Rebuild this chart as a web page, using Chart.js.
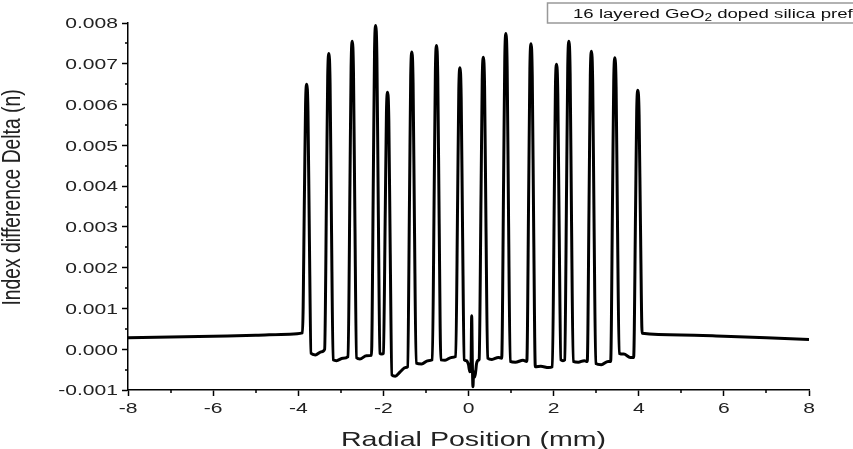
<!DOCTYPE html>
<html lang="en">
<head>
  <meta charset="UTF-8">
  <title>Index difference profile</title>
  <script src="https://cdn.jsdelivr.net/npm/chart.js"></script>
  <style>
    body { margin: 0; background: #fff; }
    canvas { display: block; }
  </style>
</head>
<body>
  <canvas id="myChart" width="853" height="449"></canvas>
  <script>
    // radial position (mm)
    const radialPos = [
      -8, -7, -6, -5, -4.2,
      -3.90, -3.855, -3.828, -3.80, -3.772, -3.74, -3.70,
      -3.60, -3.45,
      -3.38, -3.335, -3.308, -3.28, -3.252, -3.22, -3.18,
      -3.10, -2.95,
      -2.83, -2.785, -2.758, -2.73, -2.702, -2.67, -2.63,
      -2.55, -2.40,
      -2.28, -2.235, -2.208, -2.18, -2.152, -2.12, -2.08,
      -2.04,
      -2.00, -1.955, -1.928, -1.90, -1.872, -1.84, -1.80,
      -1.72, -1.60, -1.48,
      -1.43, -1.385, -1.358, -1.33, -1.302, -1.27, -1.23,
      -1.10, -0.95,
      -0.85, -0.805, -0.778, -0.75, -0.722, -0.69, -0.65,
      -0.55, -0.40,
      -0.30, -0.255, -0.228, -0.20, -0.172, -0.14, -0.10,
      -0.05, 0.00, 0.03, 0.06, 0.075, 0.09, 0.105, 0.12, 0.15, 0.19, 0.23,
      0.25, 0.295, 0.322, 0.35, 0.378, 0.41, 0.45,
      0.55, 0.70,
      0.78, 0.825, 0.852, 0.88, 0.908, 0.94, 0.98,
      1.10, 1.28,
      1.37, 1.415, 1.442, 1.47, 1.498, 1.53, 1.57,
      1.70, 1.88,
      1.97, 2.015, 2.042, 2.07, 2.098, 2.13, 2.17,
      2.22,
      2.26, 2.305, 2.332, 2.36, 2.388, 2.42, 2.46,
      2.58, 2.72,
      2.79, 2.835, 2.862, 2.89, 2.918, 2.95, 2.99,
      3.12, 3.28,
      3.34, 3.385, 3.412, 3.44, 3.468, 3.50, 3.54,
      3.65, 3.80,
      3.88, 3.925, 3.952, 3.98, 4.008, 4.04, 4.08,
      5, 6, 7, 8
    ];

    // index difference delta (n)
    const indexDelta = [
      0.00028, 0.00030, 0.00032, 0.00034, 0.00037,
      0.00040, 0.00376, 0.00601, 0.00650, 0.00584, 0.00287, -0.00010,
      -0.00014, -0.00006,
      0.00000, 0.00399, 0.00667, 0.00725, 0.00650, 0.00312, -0.00026,
      -0.00028, -0.00022,
      -0.00018, 0.00407, 0.00693, 0.00755, 0.00677, 0.00328, -0.00021,
      -0.00024, -0.00016,
      -0.00015, 0.00430, 0.00729, 0.00794, 0.00714, 0.00352, -0.00010,
      -0.00012,
      -0.00010, 0.00342, 0.00579, 0.00630, 0.00561, 0.00249, -0.00063,
      -0.00066, -0.00055, -0.00045,
      -0.00043, 0.00382, 0.00667, 0.00729, 0.00653, 0.00309, -0.00034,
      -0.00036, -0.00028,
      -0.00026, 0.00398, 0.00683, 0.00745, 0.00668, 0.00321, -0.00026,
      -0.00027, -0.00020,
      -0.00018, 0.00371, 0.00633, 0.00690, 0.00618, 0.00296, -0.00026,
      -0.00028, -0.00038, -0.00055, -0.00035, 0.00082, -0.00030, -0.00092, -0.00055, -0.00068, -0.00035, -0.00027,
      -0.00025, 0.00383, 0.00657, 0.00716, 0.00642, 0.00310, -0.00022,
      -0.00025, -0.00020,
      -0.00022, 0.00416, 0.00710, 0.00774, 0.00694, 0.00332, -0.00030,
      -0.00032, -0.00027,
      -0.00030, 0.00398, 0.00687, 0.00749, 0.00670, 0.00313, -0.00043,
      -0.00042, -0.00045,
      -0.00043, 0.00365, 0.00640, 0.00699, 0.00627, 0.00300, -0.00026,
      -0.00028,
      -0.00026, 0.00404, 0.00693, 0.00755, 0.00677, 0.00323, -0.00030,
      -0.00032, -0.00028,
      -0.00030, 0.00389, 0.00670, 0.00731, 0.00654, 0.00310, -0.00035,
      -0.00038, -0.00030,
      -0.00030, 0.00380, 0.00655, 0.00715, 0.00643, 0.00316, -0.00010,
      -0.00012, -0.00020,
      -0.00020, 0.00340, 0.00583, 0.00635, 0.00575, 0.00307, 0.00039,
      0.00035, 0.00032, 0.00028, 0.00024
    ];

    // minor tick positions
    const xMinor = [-7, -5, -3, -1, 1, 3, 5, 7];
    const yMinor = [-0.0005, 0.0005, 0.0015, 0.0025, 0.0035, 0.0045, 0.0055, 0.0065, 0.0075];

    const xTitle = 'Radial Position (mm)';
    const yTitle = 'Index difference Delta (n)';
    const seriesLabel = ['16 layered GeO', '2', ' doped silica preform'];

    const FAMILY = "'Liberation Sans', Arial, sans-serif";
    const STRETCH = 1.36; // the source picture is a bit wide, text looks stretched

    // draw text stretched horizontally
    function wideText(ctx, str, x, y, size, align, baseline) {
      ctx.save();
      ctx.font = size + 'px ' + FAMILY;
      ctx.textAlign = align;
      ctx.textBaseline = baseline;
      ctx.translate(x, y);
      ctx.scale(STRETCH, 1);
      ctx.fillText(str, 0, 0);
      ctx.restore();
    }

    // tick labels, titles, minor ticks and the boxed label
    const extras = {
      id: 'extras',
      afterDraw(chart) {
        const { ctx, scales: { x, y } } = chart;
        ctx.save();

        // minor ticks
        ctx.strokeStyle = '#000';
        ctx.lineWidth = 1.5;
        ctx.beginPath();
        xMinor.forEach(v => {
          const px = Math.round(x.getPixelForValue(v));
          ctx.moveTo(px, y.bottom);
          ctx.lineTo(px, y.bottom + 3);
        });
        yMinor.forEach(v => {
          const py = Math.round(y.getPixelForValue(v));
          ctx.moveTo(x.left, py);
          ctx.lineTo(x.left - 3, py);
        });
        ctx.stroke();

        // tick labels
        ctx.fillStyle = '#222';
        y.ticks.forEach(t => {
          wideText(ctx, t.value.toFixed(3), x.left - 10, y.getPixelForValue(t.value) + 1, 15.5, 'right', 'middle');
        });
        x.ticks.forEach(t => {
          wideText(ctx, String(Math.round(t.value)), x.getPixelForValue(t.value), y.bottom + 11, 15.5, 'center', 'top');
        });

        // axis titles
        wideText(ctx, xTitle, (x.left + x.right) / 2 + 5, 446, 21, 'center', 'alphabetic');
        ctx.save();
        ctx.font = '19.3px ' + FAMILY;
        ctx.textAlign = 'center';
        ctx.textBaseline = 'alphabetic';
        ctx.translate(19.5, 197.5);
        ctx.scale(STRETCH, 1);
        ctx.rotate(-Math.PI / 2);
        ctx.fillText(yTitle, 0, 0);
        ctx.restore();

        // label box
        ctx.strokeStyle = '#999';
        ctx.lineWidth = 1.5;
        ctx.strokeRect(547.5, 3, 320, 20);
        ctx.fillStyle = '#111';
        ctx.save();
        ctx.translate(573, 18);
        ctx.scale(STRETCH, 1);
        ctx.textBaseline = 'alphabetic';
        ctx.font = '13.7px ' + FAMILY;
        let tx = 0;
        ctx.fillText(seriesLabel[0], tx, 0);
        tx += ctx.measureText(seriesLabel[0]).width;
        ctx.font = '10px ' + FAMILY;
        ctx.fillText(seriesLabel[1], tx, 3);
        tx += ctx.measureText(seriesLabel[1]).width;
        ctx.font = '13.7px ' + FAMILY;
        ctx.fillText(seriesLabel[2], tx, 0);
        ctx.restore();

        ctx.restore();
      }
    };

    const ctx = document.getElementById('myChart').getContext('2d');
    new Chart(ctx, {
      type: 'scatter',
      data: {
        datasets: [{
          label: seriesLabel.join(''),
          data: radialPos.map((x, i) => ({ x: x, y: indexDelta[i] })),
          showLine: true,
          borderColor: '#000',
          borderWidth: 3,
          pointRadius: 0,
          cubicInterpolationMode: 'monotone'
        }]
      },
      options: {
        responsive: false,
        animation: false,
        layout: { padding: { top: 23, right: 44, left: 0, bottom: 0 } },
        plugins: { legend: { display: false }, tooltip: { enabled: false } },
        scales: {
          x: {
            type: 'linear',
            min: -8,
            max: 8,
            ticks: { stepSize: 2, display: false },
            grid: { drawOnChartArea: false, drawTicks: true, tickLength: 6, tickColor: '#000', tickWidth: 1.5 },
            border: { color: '#000', width: 1.5 },
            afterFit: scale => { scale.height = 59; }
          },
          y: {
            min: -0.001,
            max: 0.008,
            ticks: { stepSize: 0.001, display: false },
            grid: { drawOnChartArea: false, drawTicks: true, tickLength: 6, tickColor: '#000', tickWidth: 1.5 },
            border: { color: '#000', width: 1.5 },
            afterFit: scale => { scale.width = 128; }
          }
        }
      },
      plugins: [extras]
    });
  </script>
</body>
</html>
